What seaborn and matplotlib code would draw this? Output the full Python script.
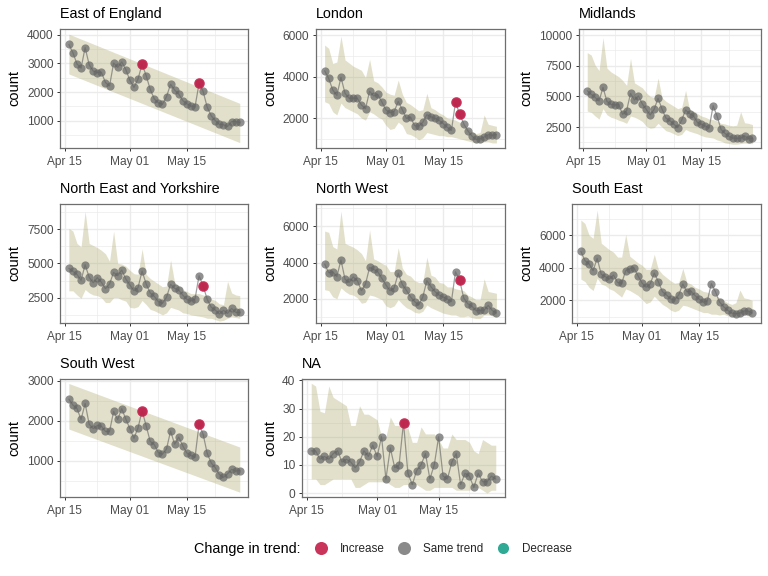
import matplotlib
matplotlib.use("Agg")
import matplotlib.pyplot as plt
from matplotlib.lines import Line2D
from matplotlib.ticker import AutoMinorLocator
import pandas as pd
import seaborn as sns

dates = pd.date_range("2020-04-16", "2020-05-28")
major_dates = pd.to_datetime(["2020-04-15", "2020-05-01", "2020-05-15"])
minor_dates = pd.to_datetime(["2020-04-23", "2020-05-08", "2020-05-22"])
tick_labels = ["Apr 15", "May 01", "May 15"]

# counts per region
east_count = [3660, 3370, 2980, 2830, 3550, 2950, 2730, 2680, 2690, 2330, 2210, 3010, 2860, 3050, 2780, 2410, 2160, 2450, 2980, 2570, 2090, 1760, 1620, 1570, 1840, 2270, 2070, 1930, 1700, 1590, 1510, 1480, 2300, 2020, 1470, 1170, 1000, 870, 860, 800, 970, 970, 940]
london_count = [4280, 3910, 3350, 3090, 3960, 3190, 2950, 2960, 2950, 2630, 2450, 3290, 3060, 3140, 2770, 2390, 2260, 2310, 2800, 2400, 1980, 2050, 1630, 1610, 1790, 2160, 2060, 1980, 1890, 1730, 1550, 1400, 2750, 2210, 1730, 1390, 1130, 970, 1000, 1080, 1200, 1170, 1200]
midlands_count = [5460, 5160, 4920, 4620, 5730, 4590, 4350, 4300, 4320, 3530, 3830, 5240, 4700, 5030, 4380, 3940, 3480, 3940, 4840, 3970, 3230, 3020, 2740, 2450, 3050, 3890, 3590, 3420, 2880, 2720, 2580, 2420, 4240, 3400, 2310, 1980, 1740, 1600, 1580, 1580, 1790, 1550, 1580]
ney_count = [4640, 4420, 4200, 3760, 4900, 3980, 3590, 3960, 3620, 3160, 3500, 4340, 4100, 4510, 3860, 3420, 3010, 3230, 4440, 3500, 2840, 2600, 2210, 2090, 2530, 3470, 3180, 3060, 2690, 2380, 2260, 2400, 4100, 3370, 2380, 1800, 1600, 1310, 1580, 1360, 1720, 1430, 1430]
nw_count = [3920, 3440, 3490, 3220, 4140, 3070, 2900, 3200, 3000, 2440, 2810, 3730, 3620, 3490, 3120, 2760, 2440, 2590, 3400, 2790, 2460, 2110, 1840, 1650, 2090, 3000, 2660, 2390, 2200, 2090, 1980, 1840, 3490, 3030, 2040, 1720, 1590, 1340, 1360, 1370, 1630, 1340, 1210]
se_count = [5000, 4430, 4240, 3820, 4570, 3590, 3450, 3300, 3550, 3100, 3040, 3820, 3940, 4000, 3510, 3060, 2800, 3000, 3670, 3140, 2530, 2330, 2080, 2040, 2330, 3000, 2530, 2570, 2290, 2080, 1880, 1960, 3020, 2530, 1900, 1610, 1390, 1220, 1180, 1220, 1350, 1350, 1220]
sw_count = [2540, 2390, 2305, 2030, 2430, 1910, 1800, 1880, 1860, 1730, 1730, 2230, 2030, 2300, 2040, 1800, 1560, 1820, 2250, 1870, 1480, 1400, 1200, 1160, 1290, 1740, 1410, 1590, 1370, 1190, 1130, 1080, 1910, 1660, 1180, 940, 820, 650, 580, 670, 780, 740, 750]
na_count = [15, 15, 12, 13, 12, 14, 15, 11, 12, 11, 9, 11, 15, 13, 17, 13, 20, 5, 16, 9, 10, 25, 7, 3, 8, 10, 14, 5, 10, 20, 6, 5, 11, 14, 3, 7, 6, 2, 7, 4, 4, 6, 5]

# ribbons, East and South West only have the two ends because they are straight
east_upper = [4020, 1605]
east_lower = [2630, 235]
sw_upper = [2930, 1340]
sw_lower = [1790, 210]
london_upper = [5520, 5360, 4630, 4700, 5950, 4800, 4650, 4500, 4400, 4300, 3950, 4830, 3800, 3700, 3500, 3250, 3150, 3100, 3830, 3150, 2750, 2650, 2500, 2350, 2400, 3190, 2500, 2400, 2250, 2150, 2000, 1950, 1900, 1800, 1700, 1500, 1350, 1250, 1300, 2150, 1700, 1650, 1600]
london_lower = [2790, 2700, 2300, 2150, 2720, 2500, 2400, 2300, 2200, 2000, 1900, 2300, 2200, 2050, 1950, 1650, 1450, 1500, 1800, 1650, 1250, 1200, 1100, 950, 1050, 1300, 1250, 1200, 1150, 1150, 1100, 1100, 1050, 1000, 950, 900, 850, 800, 800, 850, 850, 800, 800]
midlands_upper = [8560, 8370, 7550, 7100, 9800, 7300, 7000, 6800, 6600, 6300, 5900, 8100, 6100, 5900, 5700, 5300, 5000, 4900, 6500, 4900, 4600, 4400, 4200, 4000, 4100, 5500, 3950, 3800, 3600, 3400, 3300, 3150, 3100, 3000, 2800, 2750, 2650, 2600, 2650, 3750, 2850, 2800, 2700]
midlands_lower = [3800, 3700, 3400, 3150, 4000, 3500, 3300, 3200, 3050, 2950, 2800, 3400, 3300, 3150, 2950, 2580, 2400, 2450, 2800, 2500, 2200, 2100, 1950, 1800, 1900, 2300, 2150, 2050, 1950, 1800, 1700, 1650, 1600, 1450, 1350, 1200, 1150, 1100, 1100, 1150, 1200, 1150, 1150]
ney_upper = [7550, 7350, 6450, 6200, 8800, 6450, 6300, 6150, 5950, 5700, 5150, 7350, 5000, 4950, 4800, 4500, 4250, 4200, 6050, 4200, 3900, 3700, 3500, 3300, 3350, 5250, 3600, 3400, 3100, 2950, 2800, 2800, 2800, 2700, 2650, 2400, 2300, 2050, 2000, 3700, 2850, 2700, 2650]
ney_lower = [3000, 3000, 2700, 2450, 3100, 2850, 2700, 2650, 2500, 2150, 2150, 2500, 2500, 2350, 2250, 1800, 1750, 1850, 2300, 2000, 1650, 1550, 1400, 1250, 1400, 1800, 1700, 1600, 1400, 1350, 1250, 1200, 1150, 1100, 1000, 1000, 900, 800, 850, 1000, 1100, 1050, 1000]
nw_upper = [5740, 5670, 4880, 4750, 6850, 5060, 4950, 4850, 4700, 4500, 4100, 5800, 4200, 4100, 3950, 3850, 3500, 3500, 4820, 3700, 3350, 3250, 3000, 2900, 2900, 4300, 3300, 3200, 2900, 2850, 2650, 2650, 2550, 2500, 2450, 2200, 2100, 1950, 1950, 3100, 2400, 2350, 2300]
nw_lower = [2500, 2450, 2100, 2000, 2600, 2400, 2250, 2200, 2050, 1750, 1800, 2200, 2150, 2050, 1950, 1600, 1500, 1600, 1950, 1700, 1500, 1400, 1250, 1200, 1300, 1650, 1500, 1400, 1300, 1200, 1150, 1100, 1100, 1000, 1000, 1050, 950, 900, 900, 1100, 1100, 1050, 1000]
se_upper = [6920, 6710, 6000, 5800, 7530, 5500, 5300, 5100, 4950, 4650, 4650, 6040, 4700, 4500, 4300, 4150, 3900, 3900, 4820, 3900, 3600, 3400, 3200, 3050, 3100, 3960, 3100, 3000, 2800, 2700, 2550, 2500, 2400, 2300, 2150, 2000, 1850, 1750, 1850, 2630, 2150, 2100, 2000]
se_lower = [3300, 3150, 2800, 2600, 3350, 3000, 2900, 2700, 2600, 2400, 2200, 2700, 2600, 2450, 2300, 2050, 1800, 1900, 2250, 2000, 1750, 1600, 1400, 1300, 1400, 1700, 1650, 1550, 1450, 1350, 1250, 1250, 1150, 1150, 1100, 1150, 1050, 1050, 1000, 1000, 1100, 1050, 1050]
na_upper = [39, 38, 29, 28.5, 38, 34, 33, 32, 31, 24, 24, 31, 28, 28, 27, 26, 20, 20, 27, 24, 24, 23, 23, 18, 18, 23.5, 21, 21, 21, 19, 16, 16, 21, 19, 19, 19, 18, 15, 14, 19, 18, 17, 17]
na_lower = [5, 5, 3, 3, 4, 5, 5, 5, 5, 5, 2, 2, 3, 4, 4, 4, 4, 4, 3, 2, 2, 3, 3, 3, 3, 2, 1, 1, 2, 2, 2, 2, 2, 1, 1, 1, 1, 2, 2, 1, 0, 1, 1]

# which days get the red "Increase" dot
east_inc = ["2020-05-04", "2020-05-18"]
london_inc = ["2020-05-18", "2020-05-19"]
ney_inc = ["2020-05-19"]
nw_inc = ["2020-05-19"]
sw_inc = ["2020-05-04", "2020-05-18"]
na_inc = ["2020-05-07"]

region_names = ["East of England", "London", "Midlands", "North East and Yorkshire",
                "North West", "South East", "South West", "NA"]
counts = [east_count, london_count, midlands_count, ney_count, nw_count, se_count, sw_count, na_count]
uppers = [east_upper, london_upper, midlands_upper, ney_upper, nw_upper, se_upper, sw_upper, na_upper]
lowers = [east_lower, london_lower, midlands_lower, ney_lower, nw_lower, se_lower, sw_lower, na_lower]
increases = [east_inc, london_inc, [], ney_inc, nw_inc, [], sw_inc, na_inc]
y_ticks = [[1000, 2000, 3000, 4000], [2000, 4000, 6000], [2500, 5000, 7500, 10000], [2500, 5000, 7500],
           [2000, 4000, 6000], [2000, 4000, 6000], [1000, 2000, 3000], [0, 10, 20, 30, 40]]
y_limits = [(58, 4209), (570, 6305), (815, 10516), (680, 9345), (673, 7253), (630, 7920), (90, 3050), (-1.4, 40.6)]

# panel boxes in pixels: left, right, top, bottom
W, H = 768, 576
boxes = [(60.3, 248.3, 28.7, 147.7), (316, 505, 28.7, 147.7), (579, 760.7, 28.7, 147.7),
         (60.3, 248.3, 203.7, 322.7), (316, 505, 203.7, 322.7), (572.3, 760.7, 203.7, 322.7),
         (60.3, 248.3, 378.7, 497), (302, 505, 378.7, 497)]
ylabel_x = [14, 270, 526, 14, 270, 526, 14, 270]

red = "#C41E4A"
grey = "#666666"
ribbon = "#ACA86C"

sns.set_theme(style="white")
plt.rcParams["font.family"] = ["Liberation Sans", "DejaVu Sans"]

fig = plt.figure(figsize=(W / 100, H / 100), dpi=100)

for i, name in enumerate(region_names):
    left, right, top, bottom = boxes[i]
    ax = fig.add_axes([left / W, 1 - bottom / H, (right - left) / W, (bottom - top) / H])
    df = pd.DataFrame({"date": dates, "count": counts[i]})

    # straight ribbons only need their end points
    ribbon_x = dates[[0, -1]] if len(uppers[i]) == 2 else dates
    ax.fill_between(ribbon_x, lowers[i], uppers[i], color=ribbon, alpha=0.35, linewidth=0, zorder=2)

    sns.lineplot(data=df, x="date", y="count", color="#555555", linewidth=0.9, alpha=0.55, ax=ax, zorder=3)
    sns.scatterplot(data=df, x="date", y="count", color=grey, s=35, alpha=0.72, linewidth=0, ax=ax, zorder=4)
    flagged = df[df["date"].isin(pd.to_datetime(increases[i]))]
    if len(flagged):
        sns.scatterplot(data=flagged, x="date", y="count", color=red, s=58, alpha=0.9, linewidth=0, ax=ax, zorder=5)

    ax.set_xlim(dates[0] - pd.Timedelta(days=2.1), dates[-1] + pd.Timedelta(days=2.1))
    ax.set_ylim(y_limits[i])
    ax.set_xticks(major_dates)
    ax.set_xticklabels(tick_labels)
    ax.set_xticks(minor_dates, minor=True)
    ax.set_yticks(y_ticks[i])
    ax.yaxis.set_minor_locator(AutoMinorLocator(2))

    ax.grid(which="major", color="#EBEBEB", linewidth=1.0, zorder=1)
    ax.grid(which="minor", color="#EBEBEB", linewidth=0.5, zorder=1)
    ax.set_axisbelow(True)
    ax.tick_params(axis="both", which="major", length=2.3, width=0.7, color="#333333",
                   labelcolor="#4D4D4D", labelsize=8.6, bottom=True, left=True)
    ax.tick_params(axis="x", which="major", pad=3.5)
    ax.tick_params(axis="y", which="major", pad=2.5)
    ax.tick_params(axis="both", which="minor", length=0)
    for spine in ax.spines.values():
        spine.set_color("#6E6E6E")
        spine.set_linewidth(0.9)

    ax.set_xlabel("")
    ax.set_ylabel("count", fontsize=10.5, color="black", va="center")
    ax.yaxis.set_label_coords((ylabel_x[i] - left) / (right - left), 0.5)
    ax.set_title(name, loc="left", fontsize=10.4, color="black", pad=8)

# legend along the bottom
handles = [Line2D([], [], linestyle="", marker="o", markersize=9.4, color="#C8345A", markeredgewidth=0),
           Line2D([], [], linestyle="", marker="o", markersize=9.4, color="#8A8A8A", markeredgewidth=0),
           Line2D([], [], linestyle="", marker="o", markersize=8, color="#30A995", markeredgewidth=0)]
fig.text(194.3 / W, 1 - 549.5 / H, "Change in trend:", fontsize=10.4, color="black", va="center", ha="left")
fig.legend(handles, ["Increase", "Same trend", "Decrease"], loc="center left",
           bbox_to_anchor=(309 / W, 1 - 549.5 / H), ncol=3, frameon=False, fontsize=8.4,
           handletextpad=0.61, columnspacing=0.69, borderpad=0, borderaxespad=0)

fig.savefig("out.png", dpi=100)
